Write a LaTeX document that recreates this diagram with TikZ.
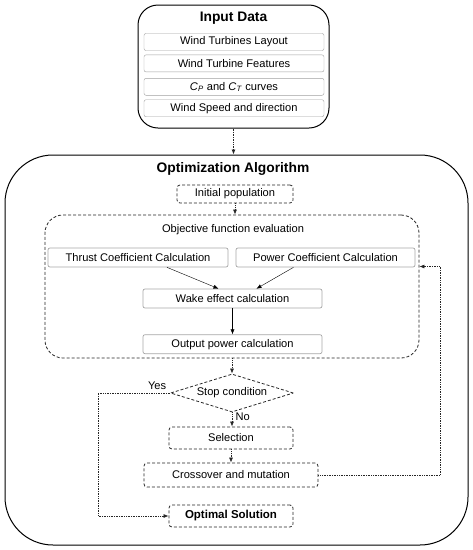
\documentclass[tikz,border=0pt]{standalone}
\usepackage{fontspec}
\setmainfont{Liberation Sans}
\usetikzlibrary{arrows.meta,positioning,shapes.geometric}

\begin{document}
\begin{tikzpicture}[
  x=1pt, y=-1pt,
  font=\fontsize{11.1}{13}\selectfont,
  frame/.style={draw, line width=1pt},
  inbox/.style={draw=gray!75, rounded corners=2pt, minimum width=180pt, minimum height=17pt, inner sep=1pt},
  calcbox/.style={draw=gray!70, line width=0.7pt, rounded corners=2pt, minimum height=19pt, inner sep=1pt},
  dashln/.style={draw=black!85, line width=0.8pt, dash pattern=on 3pt off 2pt},
  dbox/.style={dashln, rounded corners=3pt, minimum height=22pt, inner sep=1pt},
  arr/.style={-{Latex[length=5pt,width=4pt]}},
  dotarr/.style={densely dotted, line width=0.7pt, black!85, -{Latex[length=5pt,width=4pt]}},
  ttl/.style={font=\fontsize{13.8}{16}\selectfont\bfseries}
]
\useasboundingbox (0,0) rectangle (473,550);
% input block
\node[frame, rounded corners=20pt, minimum width=191pt, minimum height=123pt] (inframe) at (233.5,66.5) {};
\node[ttl] (intitle) at (233.5,18) {Input Data};
\node[inbox] (l1) at (234,42) {Wind Turbines Layout};
\node[inbox, below=4pt of l1] (l2) {Wind Turbine Features};
\node[inbox, below=6pt of l2] (l3) {\textit{C}\textsubscript{\textit{P}} and \textit{C}\textsubscript{\textit{T}} curves};
\node[inbox, below=4pt of l3] (l4) {Wind Speed and direction};
% optimization block
\node[frame, rounded corners=48pt, minimum width=463pt, minimum height=390pt] (algframe) at (236.5,350) {};
\node[ttl] (algtitle) at (233,169) {Optimization Algorithm};
\node[dbox, minimum width=116pt, minimum height=18pt] (init) at (235,194) {Initial population};
\node[dashln, rounded corners=18pt, minimum width=374pt, minimum height=143pt] (objframe) at (232,286.5) {};
\node (objtitle) at (233,230) {Objective function evaluation};
\node[calcbox, minimum width=180pt] (thrust) at (138,257.5) {Thrust Coefficient Calculation};
\node[calcbox, minimum width=179pt] (power) at (325.5,257.5) {Power Coefficient Calculation};
\node[calcbox, minimum width=179pt] (wake) at (232.5,298.5) {Wake effect calculation};
\node[calcbox, minimum width=179pt, below=26pt of wake] (outp) {Output power calculation};
\node[diamond, dashln, minimum width=123pt, minimum height=38pt, inner sep=0pt, aspect=3.2] (stop) at (232,393) {Stop condition};
\node[dbox, minimum width=124pt] (sel) at (231,438) {Selection};
\node[dbox, minimum width=174pt, minimum height=24pt] (cross) at (231,475) {Crossover and mutation};
\node[dbox, minimum width=124pt, font=\fontsize{11.5}{13}\selectfont\bfseries] (opt) at (231,516) {Optimal Solution};
% connectors
\draw[dotarr] (inframe.south) -- (inframe.south |- algframe.north);
\draw[dotarr] (init.south) -- (init.south |- objframe.north);
\draw[arr] ([xshift=29pt]thrust.south) -- ([xshift=-14pt]wake.north);
\draw[arr] ([xshift=-32pt]power.south) -- ([xshift=24pt]wake.north);
\draw[arr] (wake) -- (outp);
\draw[dotarr] (objframe.south) -- (stop.north);
\draw[dotarr] (stop.south) -- node[right, pos=0.3, text=black] {No} (stop.south |- sel.north);
\draw[dotarr] (sel) -- (cross);
\draw[dotarr] (stop.west) -- node[above, pos=0.18, text=black] {Yes} ++(-72,0) |- (opt.west);
\draw[dotarr] (cross.east) -- ++(122,0) |- ([yshift=20pt]objframe.east);
\end{tikzpicture}
\end{document}
